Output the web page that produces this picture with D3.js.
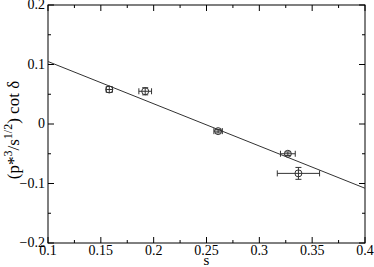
<!DOCTYPE html>
<html>
<head>
<script src="https://d3js.org/d3.v7.min.js"></script>
<style>
body { margin: 0; background: #fff; font-family: 'Liberation Serif', 'DejaVu Serif', serif; }
</style>
</head>
<body>
<svg id="chart" width="374" height="267"></svg>
<script>
// data
var sVals   = [0.158, 0.192, 0.261, 0.327, 0.337];
var yVals   = [0.058, 0.055, -0.012, -0.050, -0.083];
var sErr    = [0.003, 0.006, 0.004, 0.007, 0.020];
var yErr    = [0.005, 0.006, 0.003, 0.003, 0.010];
var fitS    = [0.1, 0.4];
var fitY    = [0.105, -0.108];
var xTicks  = [0.1, 0.15, 0.2, 0.25, 0.3, 0.35, 0.4];
var yTicks  = [-0.2, -0.1, 0, 0.1, 0.2];

var svg = d3.select("#chart");
var pLeft = 48, pRight = 365, pTop = 5, pBottom = 243;

var x = d3.scaleLinear().domain([0.1, 0.4]).range([pLeft, pRight]);
var y = d3.scaleLinear().domain([-0.2, 0.2]).range([pBottom, pTop]);

var xMinor = [0.125, 0.175, 0.225, 0.275, 0.325, 0.375];
var yMinor = [-0.15, -0.05, 0.05, 0.15];

// frame
svg.append("rect")
.attr("x", pLeft).attr("y", pTop)
.attr("width", pRight - pLeft).attr("height", pBottom - pTop)
.attr("fill", "none").attr("stroke", "#000").attr("stroke-width", 1);

// ticks, inward on all four sides
function tickLines(vals, len) {
    vals.forEach(function (v) {
        svg.append("line").attr("x1", x(v)).attr("x2", x(v)).attr("y1", pBottom).attr("y2", pBottom - len).attr("stroke", "#000");
        svg.append("line").attr("x1", x(v)).attr("x2", x(v)).attr("y1", pTop).attr("y2", pTop + len).attr("stroke", "#000");
    });
}
function tickLinesY(vals, len) {
    vals.forEach(function (v) {
        svg.append("line").attr("y1", y(v)).attr("y2", y(v)).attr("x1", pLeft).attr("x2", pLeft + len).attr("stroke", "#000");
        svg.append("line").attr("y1", y(v)).attr("y2", y(v)).attr("x1", pRight).attr("x2", pRight - len).attr("stroke", "#000");
    });
}
tickLines(xTicks, 6);
tickLines(xMinor, 3);
tickLinesY(yTicks, 6);
tickLinesY(yMinor, 3);

// tick labels
svg.selectAll("text.xt").data(xTicks).enter().append("text")
.attr("class", "xt")
.attr("x", function (d) { return x(d); })
.attr("y", pBottom + 12)
.attr("text-anchor", "middle")
.style("font-size", "14px")
.text(function (d) { return d3.format("")(d); });

svg.selectAll("text.yt").data(yTicks).enter().append("text")
.attr("class", "yt")
.attr("x", pLeft - 3)
.attr("y", function (d) { return y(d) + 4; })
.attr("text-anchor", "end")
.style("font-size", "14px")
.text(function (d) { return d3.format("")(d); });

// axis titles
svg.append("text")
.attr("x", x(0.25)).attr("y", 265)
.attr("text-anchor", "middle")
.style("font-size", "15px")
.text("s");

var yl = svg.append("text")
.attr("transform", "translate(19," + (y(0) + 6) + ") rotate(-90)")
.attr("text-anchor", "middle")
.style("font-size", "17px");
yl.append("tspan").text("(p*");
yl.append("tspan").attr("dy", -7).style("font-size", "12px").text("3");
yl.append("tspan").attr("dy", 7).text("/s");
yl.append("tspan").attr("dy", -7).style("font-size", "12px").text("1/2");
yl.append("tspan").attr("dy", 7).text(") cot δ");

// fit line
svg.append("line")
.attr("x1", x(fitS[0])).attr("y1", y(fitY[0]))
.attr("x2", x(fitS[1])).attr("y2", y(fitY[1]))
.attr("stroke", "#333").attr("stroke-width", 1);

// points with error bars
var pts = sVals.map(function (s, i) { return { s: s, v: yVals[i], es: sErr[i], ev: yErr[i] }; });
var g = svg.selectAll("g.pt").data(pts).enter().append("g").attr("class", "pt");
var cap = 3;
g.append("line")
.attr("x1", function (d) { return x(d.s - d.es); }).attr("x2", function (d) { return x(d.s + d.es); })
.attr("y1", function (d) { return y(d.v); }).attr("y2", function (d) { return y(d.v); })
.attr("stroke", "#333");
g.append("line")
.attr("x1", function (d) { return x(d.s); }).attr("x2", function (d) { return x(d.s); })
.attr("y1", function (d) { return y(d.v - d.ev); }).attr("y2", function (d) { return y(d.v + d.ev); })
.attr("stroke", "#333");
// caps
g.append("path")
.attr("d", function (d) {
    var x0 = x(d.s - d.es), x1 = x(d.s + d.es), yy = y(d.v);
    var y0 = y(d.v - d.ev), y1 = y(d.v + d.ev), xx = x(d.s);
    return "M" + x0 + "," + (yy - cap) + "V" + (yy + cap) +
        "M" + x1 + "," + (yy - cap) + "V" + (yy + cap) +
        "M" + (xx - cap) + "," + y0 + "H" + (xx + cap) +
        "M" + (xx - cap) + "," + y1 + "H" + (xx + cap);
})
.attr("stroke", "#333").attr("fill", "none");
g.append("circle")
.attr("cx", function (d) { return x(d.s); })
.attr("cy", function (d) { return y(d.v); })
.attr("r", 3.5)
.attr("fill", "none").attr("stroke", "#333");
</script>
</body>
</html>
